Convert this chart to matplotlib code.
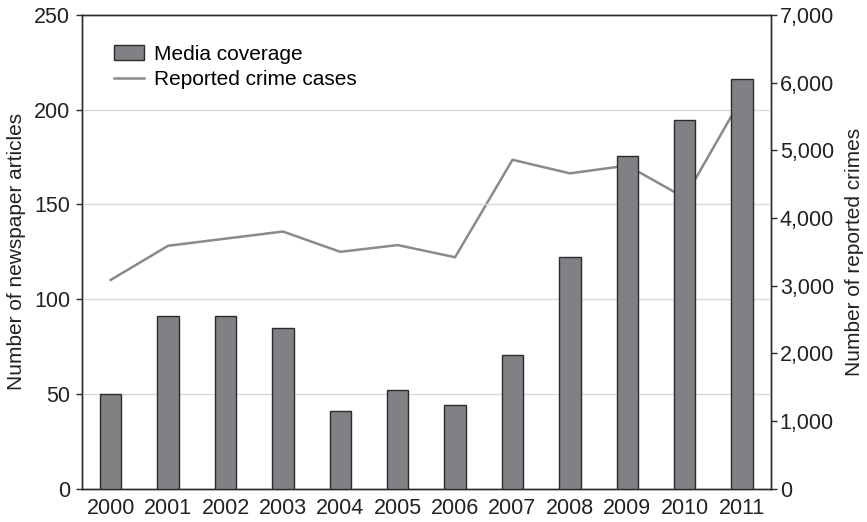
import matplotlib
matplotlib.use("Agg")
import matplotlib.pyplot as plt
import numpy as np

years = ["2000", "2001", "2002", "2003", "2004", "2005", "2006",
         "2007", "2008", "2009", "2010", "2011"]
articles = [50, 91, 91, 85, 41, 52, 44, 70.5, 122.5, 175.5, 194.5, 216]
crimes = [3085, 3590, 3695, 3800, 3500, 3600, 3420,
          4860, 4660, 4775, 4300, 5780]

plt.rcParams["font.family"] = ["Liberation Sans", "DejaVu Sans"]
dark = "#2b2b2b"

fig = plt.figure(figsize=(8.67, 5.22), dpi=100)
ax = fig.add_axes([0.0946, 0.0638, 0.7944, 0.9075])
ax2 = ax.twinx()

x = np.arange(len(years))
ax2.plot(x, crimes, color="#8a8a8a", lw=1.8, label="Reported crime cases")
ax.bar(x, articles, width=0.375, color="#808185", edgecolor=dark,
       linewidth=1.0, label="Media coverage", zorder=3)

# bars sit in front of the line
ax.set_zorder(ax2.get_zorder() + 1)
ax.patch.set_visible(False)

ax.set_xlim(-0.5, 11.5)
ax.set_ylim(0, 250)
ax.set_yticks(range(0, 251, 50))
ax.set_xticks(x)
ax.set_xticklabels(years)
ax2.set_ylim(0, 7000)
ax2.set_yticks(range(0, 7001, 1000))
ax2.set_yticklabels([f"{v:,}" for v in range(0, 7001, 1000)])

ax.yaxis.grid(True, color="#d9d9d9", lw=1.0, zorder=0)
ax.set_axisbelow(True)

for a in (ax, ax2):
    for s in a.spines.values():
        s.set_color(dark)
        s.set_linewidth(1.0)
ax.tick_params(axis="y", length=4.5, width=1.0, color=dark, labelsize=15.5,
               labelcolor="#222222", pad=4)
ax.tick_params(axis="x", length=0, labelsize=15.5, labelcolor="#222222", pad=7)
ax2.tick_params(axis="y", length=4.5, width=1.0, color=dark, labelsize=15.5,
                labelcolor="#222222", pad=2)

ax.set_ylabel("Number of newspaper articles", fontsize=15, color="#222222",
              labelpad=6)
ax2.set_ylabel("Number of reported crimes", fontsize=15, color="#222222",
               labelpad=8)

h1, l1 = ax.get_legend_handles_labels()
h2, l2 = ax2.get_legend_handles_labels()
ax.legend(h1 + h2, l1 + l2, loc="upper left", bbox_to_anchor=(0.035, 0.955),
          frameon=False, fontsize=15, handlelength=1.4, handletextpad=0.5,
          labelspacing=0.3, borderaxespad=0)

fig.savefig("out.png", dpi=100)
